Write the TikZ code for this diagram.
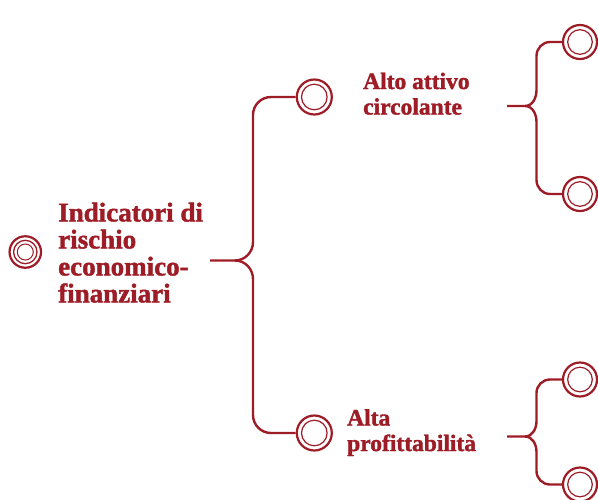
\documentclass[tikz,border=0pt]{standalone}
\usepackage{fontspec}
\setmainfont{Liberation Serif}
\newfontfamily\heavy[FakeBold=1.6]{Liberation Serif Bold}
\definecolor{crimson}{RGB}{158,28,38}
\begin{document}
\begin{tikzpicture}[x=1pt,y=-1pt,
  ring/.style={circle,draw=crimson,line width=2.2pt,inner sep=0pt,fill=white},
  inring/.style={draw=crimson,line width=1.2pt},
  brace/.style={draw=crimson,line width=2.4pt,line cap=butt},
  roottext/.style={anchor=north west,inner sep=0pt,align=left,text=crimson,
    font=\heavy\fontsize{27}{27}\selectfont},
  midtext/.style={anchor=north west,inner sep=0pt,align=left,text=crimson,
    font=\heavy\fontsize{23.5}{25.5}\selectfont}]
\useasboundingbox (0,0) rectangle (598,499);
% root
\node[ring,minimum size=31.5pt] (r0) at (25.3,252) {};
\draw[crimson,line width=1.3pt] (r0) circle (11.7);
\draw[crimson,line width=1pt] (r0) circle (8);
\node[roottext] (t0) at (58,202.5) {Indicatori di\\rischio\\economico-\\finanziari};
% level 1
\node[ring,minimum size=35pt] (a1) at (314.3,97) {};
\draw[inring] (a1) circle (12.8);
\node[ring,minimum size=35pt] (b1) at (314.3,433) {};
\draw[inring] (b1) circle (12.8);
\node[midtext] (ta) at (363,72.5) {Alto attivo\\circolante};
\node[midtext] (tb) at (347,409) {Alta\\profittabilità};
% level 2
\node[ring,minimum size=34pt] (a2) at (580,42) {};
\draw[inring] (a2) circle (12.3);
\node[ring,minimum size=34pt] (a3) at (580,194) {};
\draw[inring] (a3) circle (12.3);
\node[ring,minimum size=34pt] (b2) at (580,379.5) {};
\draw[inring] (b2) circle (12.3);
\node[ring,minimum size=34pt] (b3) at (580,484.5) {};
\draw[inring] (b3) circle (12.3);
% junction coordinates
\coordinate (s0) at (210,260.5);
\coordinate (j0) at (235,260.5);
\coordinate (sa) at (507,106);
\coordinate (ja) at (525,106);
\coordinate (sb) at (507,436.5);
\coordinate (jb) at (525,436.5);
% main brace
\draw[brace] (s0) -- (j0) to[out=0,in=-90] (253,242) -- (253,115) to[out=90,in=180] (271,97) -- (a1.west);
\draw[brace] (j0) to[out=0,in=90] (253,279) -- (253,415) to[out=-90,in=180] (271,433) -- (b1.west);
% upper right brace
\draw[brace] (sa) -- (ja) to[out=0,in=-90] (536.5,90) -- (536.5,56) to[out=90,in=180] (550,42) -- (a2.west);
\draw[brace] (ja) to[out=0,in=90] (536.5,122) -- (536.5,180) to[out=-90,in=180] (550,194) -- (a3.west);
% lower right brace
\draw[brace] (sb) -- (jb) to[out=0,in=-90] (536.5,421) -- (536.5,393) to[out=90,in=180] (550,379.5) -- (b2.west);
\draw[brace] (jb) to[out=0,in=90] (536.5,452) -- (536.5,471) to[out=-90,in=180] (550,484.5) -- (b3.west);
\end{tikzpicture}
\end{document}
